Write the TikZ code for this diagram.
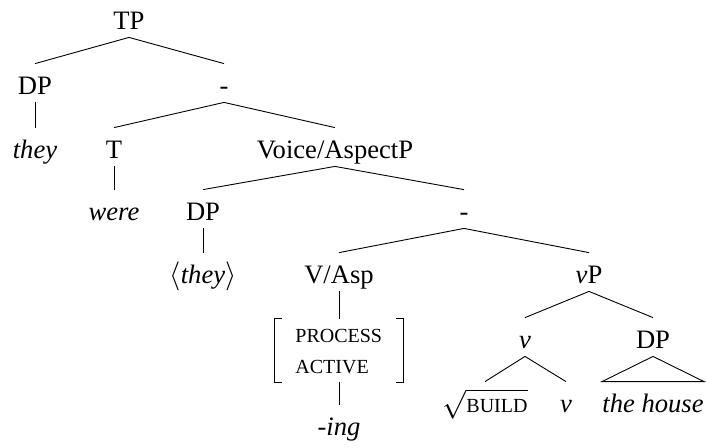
\documentclass[tikz,border=0pt]{standalone}
\usepackage{fontspec}
\setmainfont{Liberation Serif}
\begin{document}
\begin{tikzpicture}[x=0.5pt,y=-0.5pt,
  lbl/.style={anchor=base,inner xsep=0pt,inner ysep=0pt,text height=15pt,text depth=4pt,
    font=\fontsize{13.3}{16}\selectfont},
  edge/.style={line width=0.45pt},
  featbox/.style={inner sep=0pt,minimum width=64pt,minimum height=31.5pt},
  smallcap/.style={font=\fontsize{10}{12}\selectfont,anchor=base west,inner sep=0pt}]
\useasboundingbox (0,0) rectangle (706,447);

% tree labels
\node[lbl] (tp)    at (129,29)  {TP};
\node[lbl] (dpa)   at (35,94)   {DP};
\node[lbl] (bara)  at (224,94)  {-};
\node[lbl] (theya) at (35,158)  {\textit{they}};
\node[lbl] (t)     at (114,158) {T};
\node[lbl] (voice) at (335,158) {Voice/AspectP};
\node[lbl] (were)  at (114,220) {\textit{were}};
\node[lbl] (dpb)   at (203,220) {DP};
\node[lbl] (barb)  at (464,220) {-};
\node[lbl] (theyb) at (203,283) {$\langle$\textit{they}$\rangle$};
\node[lbl] (vasp)  at (339,283) {V/Asp};
\node[lbl] (vp)    at (589,283) {\textit{v}P};
\node[featbox] (feat) at (339,350.5) {};
\node[lbl] (ing)   at (339,435) {\textit{-ing}};
\node[lbl] (vhead) at (525,348) {\textit{v}};
\node[lbl] (dpc)   at (653,348) {DP};
\node[lbl] (root)  at (485,412) {$\sqrt{\hbox{\fontsize{10}{12}\selectfont BUILD}}$};
\node[lbl] (vlow)  at (566,412) {\textit{v}};
\node[lbl] (house) at (653,412) {\textit{the house}};

% feature matrix contents
\node[smallcap] (proc) at (295,342) {PROCESS};
\node[smallcap] (act)  at (295,373) {ACTIVE};

% feature matrix brackets
\draw[edge] ([xshift=3.5pt]feat.north west) -- (feat.north west) -- (feat.south west) -- ([xshift=3.5pt]feat.south west);
\draw[edge] ([xshift=-3.5pt]feat.north east) -- (feat.north east) -- (feat.south east) -- ([xshift=-3.5pt]feat.south east);

% branches
\draw[edge] (tp.south) -- (dpa.north);
\draw[edge] (tp.south) -- (bara.north);
\draw[edge] (dpa.south) -- (theya.north);
\draw[edge] (bara.south) -- (t.north);
\draw[edge] (bara.south) -- (voice.north);
\draw[edge] (t.south) -- (were.north);
\draw[edge] (voice.south) -- (dpb.north);
\draw[edge] (voice.south) -- (barb.north);
\draw[edge] (dpb.south) -- (theyb.north);
\draw[edge] (barb.south) -- (vasp.north);
\draw[edge] (barb.south) -- (vp.north);
\draw[edge] (vasp.south) -- (feat.north);
\draw[edge] (feat.south) -- (ing.north);
\draw[edge] (vp.south) -- (vhead.north);
\draw[edge] (vp.south) -- (dpc.north);
\draw[edge] (vhead.south) -- (root.north);
\draw[edge] (vhead.south) -- (vlow.north);
\draw[edge] (dpc.south) -- (house.north west) -- (house.north east) -- cycle;
\end{tikzpicture}
\end{document}
